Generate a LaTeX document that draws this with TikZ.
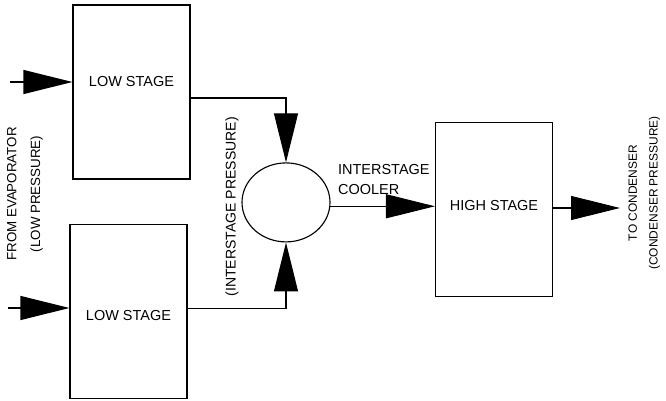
\documentclass[tikz,border=0pt]{standalone}
\usepackage{fontspec}
\setmainfont{Liberation Sans}
\usetikzlibrary{arrows.meta,calc,positioning,shapes.geometric}
\tikzset{flow/.style={-{Triangle[length=12.25mm, width=6mm]}},
  stagebox/.style={draw, minimum width=29.25mm, minimum height=43.5mm, inner sep=0pt},
  vessel/.style={draw, ellipse, minimum width=22mm, minimum height=19.75mm, inner sep=0pt}}

\begin{document}
\begin{tikzpicture}[line width=0.8pt, font=\fontsize{10.3}{14.2}\selectfont]
  \useasboundingbox (0,0) rectangle (166.5mm,-100.25mm);
  \node[stagebox] (low1) at (32.875mm,-23mm) {};
  \node[stagebox, below=11mm of low1, xshift=-0.75mm] (low2) {};
  \node[vessel] (cooler) at (71.5mm,-50.6mm) {};
  \node[stagebox] (high) at (123.5mm,-52.4mm) {};
  % stage names
  \node (low1txt) at ($(low1.center)+(0,2.5mm)$) {LOW STAGE};
  \node (low2txt) at ($(low2.center)+(0,-1mm)$) {LOW STAGE};
  \node (hightxt) at ($(high.center)+(0,0.9mm)$) {HIGH STAGE};
  % suction
  \coordinate (in1) at (2.5mm,-20.5mm);
  \coordinate (in2) at (2mm,-77mm);
  \draw[flow] (in1) -- (in1 -| low1.west);
  \draw[flow] (in2) -- (in2 -| low2.west);
  % interstage
  \coordinate (out1) at ($(low1.east)+(0,-1.5mm)$);
  \coordinate (out2) at ($(low2.east)+(0,0.75mm)$);
  \draw[flow] (out1) -| (cooler.north);
  \draw[flow] (out2) -| (cooler.south);
  \draw[flow] (cooler.-5) -- (cooler.-5 -| high.west);
  % discharge
  \coordinate (dis) at (155mm,-52mm);
  \draw[flow] (dis -| high.east) -- (dis);
  % notes
  \node[anchor=south west, align=left, inner sep=0pt] (coolertxt) at ($(cooler.east)+(1.75mm,1.9mm)$) {INTERSTAGE\\COOLER};
  \node[rotate=90, font=\fontsize{10}{12}\selectfont] (prestxt) at ($(cooler.center)+(-13.5mm,-1.1mm)$) {(INTERSTAGE PRESSURE)};
  \node[rotate=90, align=center, font=\fontsize{9.5}{17}\selectfont] (evaptxt) at (6.25mm,-48.5mm) {FROM EVAPORATOR\\(LOW PRESSURE)};
  \node[rotate=90, align=center, font=\fontsize{8.5}{14.8}\selectfont] (condtxt) at (161.1mm,-48.25mm) {TO CONDENSER\\(CONDENSER PRESSURE)};
\end{tikzpicture}
\end{document}
